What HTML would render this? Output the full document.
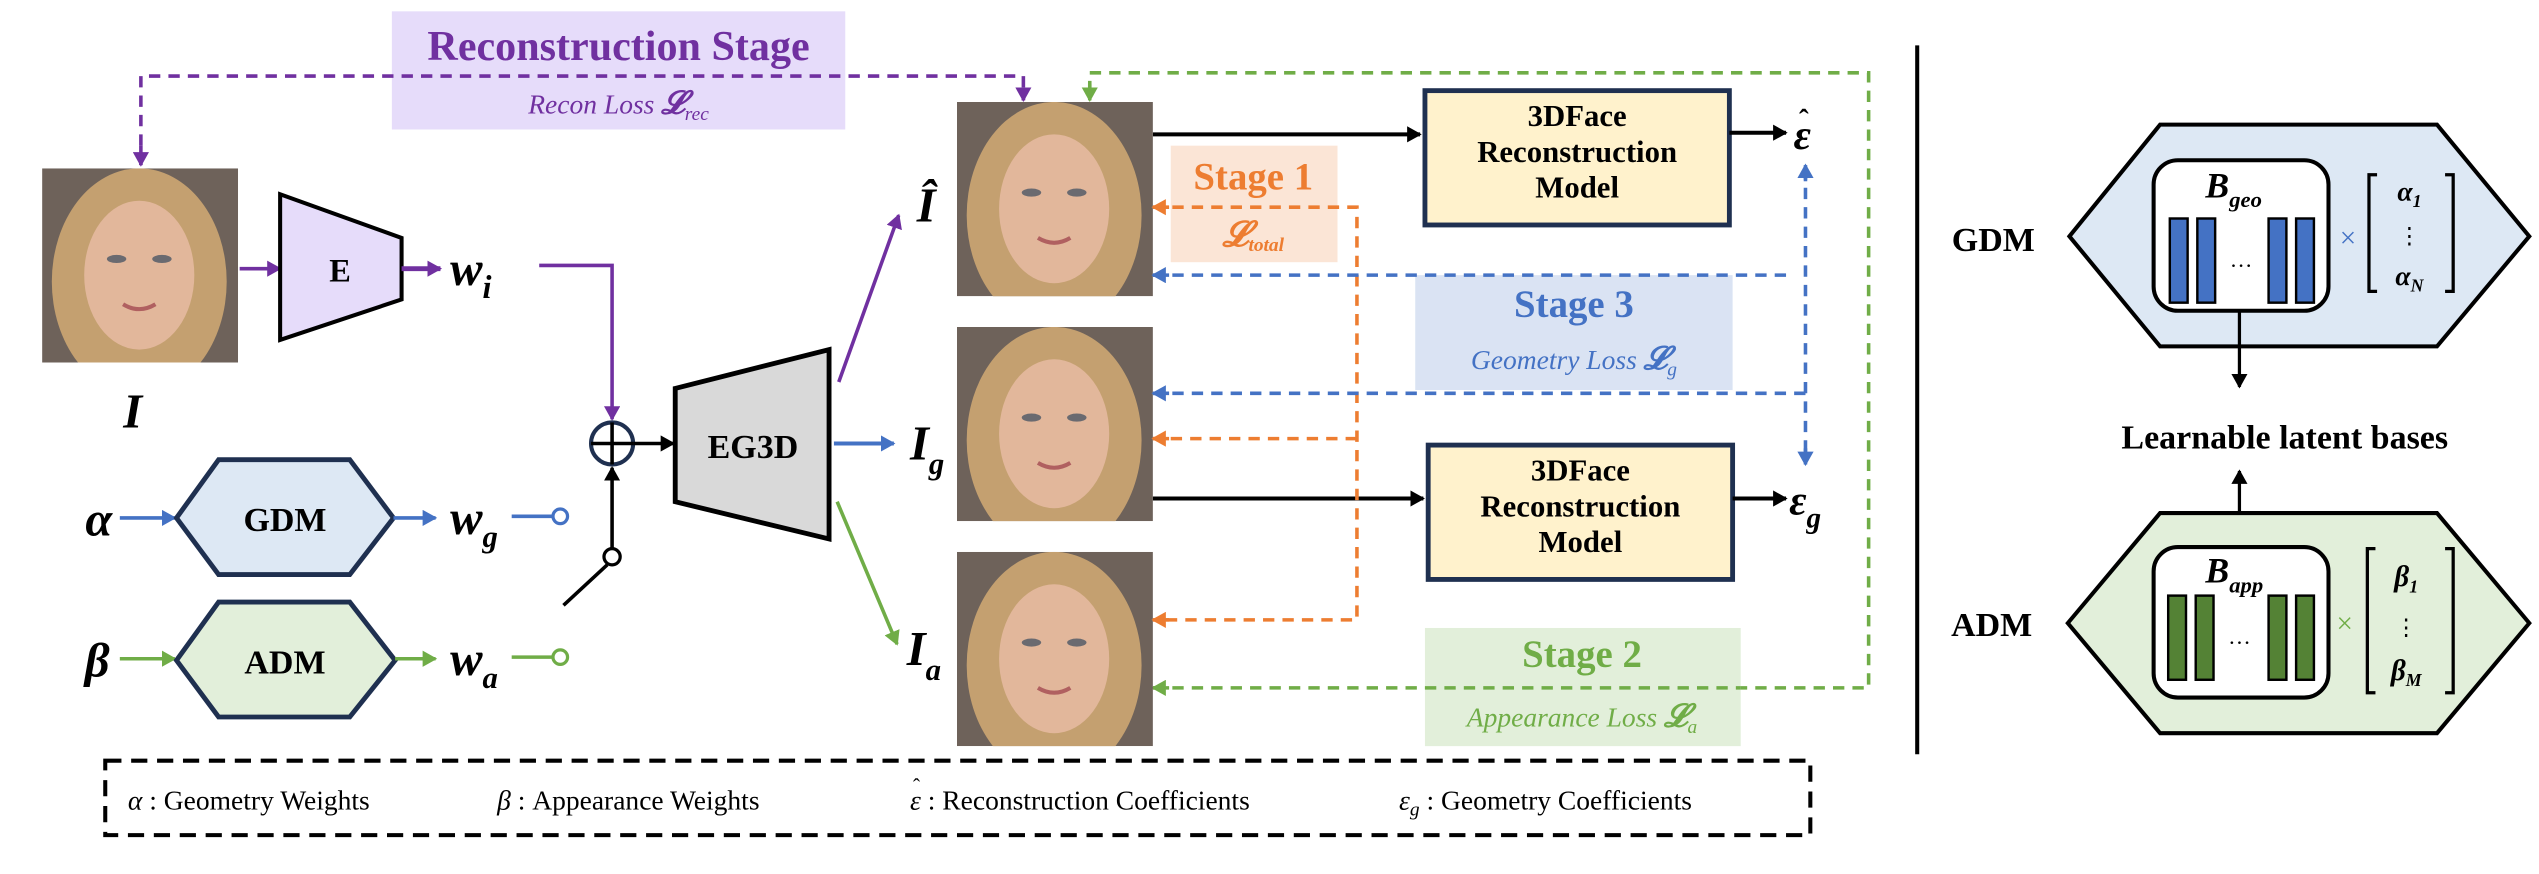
<!DOCTYPE html>
<html><head><meta charset="utf-8"><style>
html,body{margin:0;padding:0;background:#fff;}
svg{display:block;font-family:"Liberation Serif","Times New Roman",serif;}
svg text, svg tspan{font-family:"Liberation Serif","Times New Roman",serif;}
</style></head><body>
<svg width="2539" height="874" viewBox="0 0 1568 540" preserveAspectRatio="none" xmlns="http://www.w3.org/2000/svg" font-family="Liberation Serif, serif">
<defs>
<marker id="ak" markerWidth="10" markerHeight="10" refX="8" refY="5" orient="auto" markerUnits="userSpaceOnUse"><path d="M0,0 L9,5 L0,10 z" fill="#000"/></marker>
<marker id="ap" markerWidth="10" markerHeight="10" refX="8" refY="5" orient="auto" markerUnits="userSpaceOnUse"><path d="M0,0 L9,5 L0,10 z" fill="#7030a0"/></marker>
<marker id="ab" markerWidth="10" markerHeight="10" refX="8" refY="5" orient="auto" markerUnits="userSpaceOnUse"><path d="M0,0 L9,5 L0,10 z" fill="#4472c4"/></marker>
<marker id="ag" markerWidth="10" markerHeight="10" refX="8" refY="5" orient="auto" markerUnits="userSpaceOnUse"><path d="M0,0 L9,5 L0,10 z" fill="#70ad47"/></marker>
<marker id="ao" markerWidth="10" markerHeight="10" refX="8" refY="5" orient="auto" markerUnits="userSpaceOnUse"><path d="M0,0 L9,5 L0,10 z" fill="#ed7d31"/></marker>
<clipPath id="cp"><rect width="121" height="120"/></clipPath>
<g id="img">
<g clip-path="url(#cp)">
<rect width="121" height="120" fill="#6e625a"/>
<ellipse cx="60" cy="70" rx="54" ry="70" fill="#c4a070"/>
<ellipse cx="60" cy="66" rx="34" ry="46" fill="#e2b79b"/>
<ellipse cx="46" cy="56" rx="6" ry="2.5" fill="#6a6a70"/><ellipse cx="74" cy="56" rx="6" ry="2.5" fill="#6a6a70"/>
<path d="M50,84 Q60,90 70,84" stroke="#b06060" stroke-width="2.5" fill="none"/>
</g>
</g>
</defs>

<!-- Recon stage box -->
<rect x="242" y="7" width="280" height="73" fill="#e6dcfa"/>
<text x="382" y="37" text-anchor="middle" font-size="26" font-weight="bold" fill="#7030a0">Reconstruction Stage</text>
<text x="382" y="70" text-anchor="middle" font-size="17" font-style="italic" fill="#7030a0">Recon Loss <tspan font-weight="bold" font-size="20">𝓛</tspan><tspan font-size="12" dy="4">rec</tspan></text>
<path d="M87,102 V47 H632 V62" fill="none" stroke="#7030a0" stroke-width="2.2" stroke-dasharray="7,5"/>
<path d="M87,90 V102" stroke="#7030a0" stroke-width="2.2" marker-end="url(#ap)"/>
<path d="M632,54 V62" stroke="#7030a0" stroke-width="2.2" marker-end="url(#ap)"/>

<!-- green loop -->
<path d="M712,425 H1154 V45 H673 V62" fill="none" stroke="#70ad47" stroke-width="2.2" stroke-dasharray="7,5"/>
<path d="M673,52 V62" stroke="#70ad47" stroke-width="2.2" marker-end="url(#ag)"/>
<path d="M722,425 H712" stroke="#70ad47" stroke-width="2.2" marker-end="url(#ag)"/>

<!-- input image -->
<use href="#img" x="26" y="104"/>
<text x="82" y="264" text-anchor="middle" font-size="30" font-style="italic" font-weight="bold">I</text>
<line x1="148" y1="166" x2="173" y2="166" stroke="#7030a0" stroke-width="2.2" marker-end="url(#ap)"/>
<polygon points="173,120 248,147 248,185 173,210" fill="#e6dcfa" stroke="#000" stroke-width="2.5"/>
<text x="210" y="174" text-anchor="middle" font-size="20" font-weight="bold">E</text>
<line x1="248" y1="166" x2="272" y2="166" stroke="#7030a0" stroke-width="3" marker-end="url(#ap)"/>
<text x="278" y="176" font-size="30" font-style="italic" font-weight="bold">w<tspan font-size="20" dy="8">i</tspan></text>
<path d="M333,164 H378 V259" fill="none" stroke="#7030a0" stroke-width="2.2" marker-end="url(#ap)"/>

<!-- sum circle -->
<circle cx="378" cy="274" r="13" fill="none" stroke="#1f3050" stroke-width="2.5"/>
<line x1="365" y1="274" x2="391" y2="274" stroke="#000" stroke-width="2.2"/>
<line x1="378" y1="261" x2="378" y2="287" stroke="#000" stroke-width="2.2"/>
<line x1="391" y1="274" x2="416" y2="274" stroke="#000" stroke-width="2.2" marker-end="url(#ak)"/>
<line x1="378" y1="339" x2="378" y2="289" stroke="#000" stroke-width="2.2" marker-end="url(#ak)"/>
<circle cx="378" cy="344" r="5" fill="#fff" stroke="#000" stroke-width="2"/>
<line x1="375" y1="349" x2="348" y2="374" stroke="#000" stroke-width="2.2"/>

<!-- EG3D -->
<polygon points="417,240 512,216 512,333 417,310" fill="#d9d9d9" stroke="#000" stroke-width="3"/>
<text x="465" y="283" text-anchor="middle" font-size="21" font-weight="bold">EG3D</text>
<line x1="518" y1="236" x2="555" y2="133" stroke="#7030a0" stroke-width="2.2" marker-end="url(#ap)"/>
<text x="572" y="137" text-anchor="middle" font-size="30" font-style="italic" font-weight="bold">Î</text>
<line x1="515" y1="274" x2="552" y2="274" stroke="#4472c4" stroke-width="2.5" marker-end="url(#ab)"/>
<text x="562" y="284" font-size="30" font-style="italic" font-weight="bold">I<tspan font-size="19" dy="9">g</tspan></text>
<line x1="517" y1="310" x2="554" y2="398" stroke="#70ad47" stroke-width="2.2" marker-end="url(#ag)"/>
<text x="560" y="411" font-size="30" font-style="italic" font-weight="bold">I<tspan font-size="19" dy="9">a</tspan></text>

<!-- GDM/ADM -->
<text x="61" y="331" text-anchor="middle" font-size="30" font-style="italic" font-weight="bold">α</text>
<line x1="74" y1="320" x2="108" y2="320" stroke="#4472c4" stroke-width="2.2" marker-end="url(#ab)"/>
<polygon points="109,320 135,284 216,284 243,320 216,355 135,355" fill="#dde8f4" stroke="#1f3050" stroke-width="3"/>
<text x="176" y="328" text-anchor="middle" font-size="21" font-weight="bold">GDM</text>
<line x1="243" y1="320" x2="269" y2="320" stroke="#4472c4" stroke-width="2.2" marker-end="url(#ab)"/>
<text x="278" y="330" font-size="30" font-style="italic" font-weight="bold">w<tspan font-size="19" dy="8">g</tspan></text>
<line x1="316" y1="319" x2="342" y2="319" stroke="#4472c4" stroke-width="2.2"/>
<circle cx="346" cy="319" r="4.5" fill="#fff" stroke="#4472c4" stroke-width="2"/>

<text x="60" y="418" text-anchor="middle" font-size="30" font-style="italic" font-weight="bold">β</text>
<line x1="74" y1="407" x2="108" y2="407" stroke="#70ad47" stroke-width="2.2" marker-end="url(#ag)"/>
<polygon points="109,408 135,372 216,372 244,408 216,443 135,443" fill="#e2efda" stroke="#1f3050" stroke-width="3"/>
<text x="176" y="416" text-anchor="middle" font-size="21" font-weight="bold">ADM</text>
<line x1="244" y1="407" x2="269" y2="407" stroke="#70ad47" stroke-width="2.2" marker-end="url(#ag)"/>
<text x="278" y="417" font-size="30" font-style="italic" font-weight="bold">w<tspan font-size="19" dy="8">a</tspan></text>
<line x1="316" y1="406" x2="342" y2="406" stroke="#70ad47" stroke-width="2.2"/>
<circle cx="346" cy="406" r="4.5" fill="#fff" stroke="#70ad47" stroke-width="2"/>

<!-- images -->
<use href="#img" x="591" y="63"/>
<use href="#img" x="591" y="202"/>
<use href="#img" x="591" y="341"/>

<!-- Stage 1 -->
<rect x="723" y="90" width="103" height="72" fill="#fbe5d6"/>
<text x="774" y="117" text-anchor="middle" font-size="24" font-weight="bold" fill="#ed7d31">Stage 1</text>
<text x="774" y="152" text-anchor="middle" font-size="22" font-style="italic" font-weight="bold" fill="#ed7d31">𝓛<tspan font-size="12" dy="3">total</tspan></text>

<!-- 3DFace boxes -->
<line x1="712" y1="83" x2="877" y2="83" stroke="#000" stroke-width="2.5" marker-end="url(#ak)"/>
<line x1="712" y1="308" x2="879" y2="308" stroke="#000" stroke-width="2.5" marker-end="url(#ak)"/>
<rect x="880" y="56" width="188" height="83" fill="#fff2cc" stroke="#1f3050" stroke-width="3"/>
<text x="974" y="78" text-anchor="middle" font-size="19" font-weight="bold">3DFace</text>
<text x="974" y="100" text-anchor="middle" font-size="19" font-weight="bold">Reconstruction</text>
<text x="974" y="122" text-anchor="middle" font-size="19" font-weight="bold">Model</text>
<rect x="882" y="275" width="188" height="83" fill="#fff2cc" stroke="#1f3050" stroke-width="3"/>
<text x="976" y="297" text-anchor="middle" font-size="19" font-weight="bold">3DFace</text>
<text x="976" y="319" text-anchor="middle" font-size="19" font-weight="bold">Reconstruction</text>
<text x="976" y="341" text-anchor="middle" font-size="19" font-weight="bold">Model</text>
<line x1="1068" y1="82" x2="1103" y2="82" stroke="#000" stroke-width="2.5" marker-end="url(#ak)"/>
<line x1="1070" y1="308" x2="1103" y2="308" stroke="#000" stroke-width="2.5" marker-end="url(#ak)"/>
<text x="1113" y="92" text-anchor="middle" font-size="26" font-style="italic" font-weight="bold">ε</text>
<text x="1114" y="80" text-anchor="middle" font-size="18" font-weight="bold">ˆ</text>
<text x="1105" y="318" font-size="26" font-style="italic" font-weight="bold">ε<tspan font-size="18" dy="8">g</tspan></text>

<!-- orange dashed -->
<path d="M712,128 H838 V383 H712 M838,271 H712" fill="none" stroke="#ed7d31" stroke-width="2.2" stroke-dasharray="7,5"/>
<line x1="722" y1="128" x2="712" y2="128" stroke="#ed7d31" stroke-width="2.2" marker-end="url(#ao)"/>
<line x1="722" y1="271" x2="712" y2="271" stroke="#ed7d31" stroke-width="2.2" marker-end="url(#ao)"/>
<line x1="722" y1="383" x2="712" y2="383" stroke="#ed7d31" stroke-width="2.2" marker-end="url(#ao)"/>

<!-- Stage 3 -->
<rect x="874" y="170" width="196" height="71" fill="#dae3f3"/>
<text x="972" y="196" text-anchor="middle" font-size="24" font-weight="bold" fill="#4472c4">Stage 3</text>
<text x="972" y="228" text-anchor="middle" font-size="17" font-style="italic" fill="#4472c4">Geometry Loss <tspan font-weight="bold" font-size="20">𝓛</tspan><tspan font-size="12" dy="4">g</tspan></text>
<path d="M712,170 H1105 M712,243 H1115 M1115,104 V285" fill="none" stroke="#4472c4" stroke-width="2.2" stroke-dasharray="7,5"/>
<line x1="722" y1="170" x2="712" y2="170" stroke="#4472c4" stroke-width="2.2" marker-end="url(#ab)"/>
<line x1="722" y1="243" x2="712" y2="243" stroke="#4472c4" stroke-width="2.2" marker-end="url(#ab)"/>
<line x1="1115" y1="112" x2="1115" y2="102" stroke="#4472c4" stroke-width="2.2" marker-end="url(#ab)"/>
<line x1="1115" y1="277" x2="1115" y2="287" stroke="#4472c4" stroke-width="2.2" marker-end="url(#ab)"/>

<!-- Stage 2 -->
<rect x="880" y="388" width="195" height="73" fill="#e2efda"/>
<text x="977" y="412" text-anchor="middle" font-size="24" font-weight="bold" fill="#70ad47">Stage 2</text>
<text x="977" y="449" text-anchor="middle" font-size="17" font-style="italic" fill="#70ad47">Appearance Loss <tspan font-weight="bold" font-size="20">𝓛</tspan><tspan font-size="12" dy="4">a</tspan></text>
<path d="M880,425 H1075" stroke="#70ad47" stroke-width="2.2" stroke-dasharray="7,5"/>

<!-- legend -->
<rect x="65" y="470" width="1053" height="46" fill="none" stroke="#000" stroke-width="2.5" stroke-dasharray="10,6"/>
<text x="79" y="500" font-size="17"><tspan font-style="italic">α</tspan> : Geometry Weights</text>
<text x="307" y="500" font-size="17"><tspan font-style="italic">β</tspan> : Appearance Weights</text>
<text x="562" y="500" font-size="17"><tspan font-style="italic">ε</tspan> : Reconstruction Coefficients</text>
<text x="566" y="490" text-anchor="middle" font-size="13">ˆ</text>
<text x="864" y="500" font-size="17"><tspan font-style="italic">ε</tspan><tspan font-style="italic" font-size="12" dy="4">g</tspan><tspan dy="-4"> : Geometry Coefficients</tspan></text>

<!-- separator -->
<line x1="1184" y1="28" x2="1184" y2="466" stroke="#000" stroke-width="2.5"/>

<!-- right GDM -->
<text x="1231" y="155" text-anchor="middle" font-size="21" font-weight="bold">GDM</text>
<polygon points="1278,146 1334,77 1505,77 1562,146 1505,214 1334,214" fill="#dde8f4" stroke="#000" stroke-width="2.5"/>
<rect x="1330" y="99" width="108" height="93" rx="15" fill="#fff" stroke="#000" stroke-width="2.5"/>
<text x="1362" y="122" font-size="22" font-style="italic" font-weight="bold">B<tspan font-size="14" dy="6">geo</tspan></text>
<g fill="#4472c4" stroke="#000" stroke-width="1.5">
<rect x="1340" y="135" width="11" height="52"/><rect x="1357" y="135" width="11" height="52"/>
<rect x="1401" y="135" width="11" height="52"/><rect x="1418" y="135" width="11" height="52"/></g>
<text x="1384" y="165" text-anchor="middle" font-size="14">…</text>
<text x="1450" y="153" text-anchor="middle" font-size="18" fill="#4472c4">×</text>
<path d="M1468,108 H1463 V180 H1468 M1510,108 H1515 V180 H1510" fill="none" stroke="#000" stroke-width="2"/>
<text x="1488" y="124" text-anchor="middle" font-size="17" font-style="italic" font-weight="bold">α<tspan font-size="11" dy="4">1</tspan></text>
<text x="1488" y="150" text-anchor="middle" font-size="14">⋮</text>
<text x="1488" y="176" text-anchor="middle" font-size="17" font-style="italic" font-weight="bold">α<tspan font-size="11" dy="4">N</tspan></text>
<line x1="1383" y1="192" x2="1383" y2="239" stroke="#000" stroke-width="2" marker-end="url(#ak)"/>
<text x="1411" y="277" text-anchor="middle" font-size="21" font-weight="bold">Learnable latent bases</text>
<line x1="1383" y1="340" x2="1383" y2="291" stroke="#000" stroke-width="2" marker-end="url(#ak)"/>

<!-- right ADM -->
<text x="1230" y="393" text-anchor="middle" font-size="21" font-weight="bold">ADM</text>
<polygon points="1277,385 1334,317 1505,317 1562,385 1505,453 1334,453" fill="#e2efda" stroke="#000" stroke-width="2.5"/>
<rect x="1330" y="338" width="108" height="93" rx="15" fill="#fff" stroke="#000" stroke-width="2.5"/>
<text x="1362" y="360" font-size="22" font-style="italic" font-weight="bold">B<tspan font-size="14" dy="6">app</tspan></text>
<g fill="#548235" stroke="#000" stroke-width="1.5">
<rect x="1339" y="368" width="11" height="52"/><rect x="1356" y="368" width="11" height="52"/>
<rect x="1401" y="368" width="11" height="52"/><rect x="1418" y="368" width="11" height="52"/></g>
<text x="1383" y="398" text-anchor="middle" font-size="14">…</text>
<text x="1448" y="391" text-anchor="middle" font-size="18" fill="#70ad47">×</text>
<path d="M1467,339 H1462 V428 H1467 M1510,339 H1515 V428 H1510" fill="none" stroke="#000" stroke-width="2"/>
<text x="1486" y="362" text-anchor="middle" font-size="18" font-style="italic" font-weight="bold">β<tspan font-size="11" dy="4">1</tspan></text>
<text x="1486" y="392" text-anchor="middle" font-size="14">⋮</text>
<text x="1486" y="420" text-anchor="middle" font-size="18" font-style="italic" font-weight="bold">β<tspan font-size="11" dy="4">M</tspan></text>
</svg>
</body></html>
